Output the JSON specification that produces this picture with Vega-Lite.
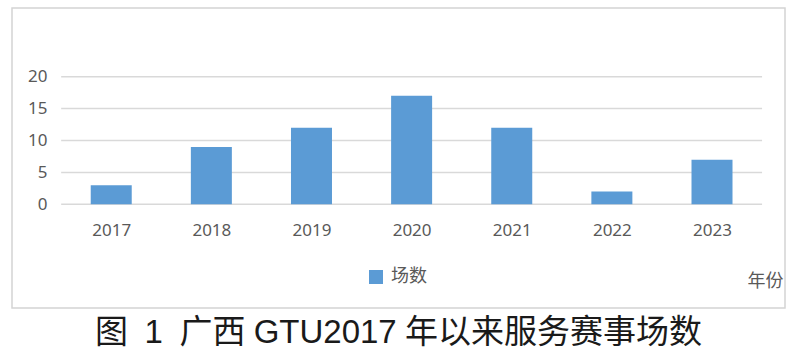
{
  "$schema": "https://vega.github.io/schema/vega-lite/v6.json",
  "autosize": "none",
  "width": 773,
  "height": 300,
  "padding": {"left": 12, "top": 8, "right": 11, "bottom": 53},
  "background": "#ffffff",
  "config": {
    "view": {"stroke": "#d4d4d4", "strokeWidth": 1.5},
    "font": "Noto Sans"
  },
  "title": {
    "text": "图\u20021\u2002广西\u2005GTU2017\u2005年以来服务赛事场数",
    "orient": "bottom",
    "anchor": "middle",
    "font": "Liberation Sans, Noto Sans CJK SC",
    "fontSize": 33,
    "fontWeight": "normal",
    "color": "#1a1a1a",
    "offset": 9
  },
  "datasets": {
    "counts": [
      {"year": 2017, "count": 3, "series": "场数"},
      {"year": 2018, "count": 9, "series": "场数"},
      {"year": 2019, "count": 12, "series": "场数"},
      {"year": 2020, "count": 17, "series": "场数"},
      {"year": 2021, "count": 12, "series": "场数"},
      {"year": 2022, "count": 2, "series": "场数"},
      {"year": 2023, "count": 7, "series": "场数"}
    ],
    "ticks": [{"v": 0}, {"v": 5}, {"v": 10}, {"v": 15}, {"v": 20}]
  },
  "layer": [
    {
      "data": {"name": "ticks"},
      "mark": {"type": "rule", "color": "#d9d9d9", "strokeWidth": 1.5},
      "encoding": {
        "x": {"datum": 2016.5, "type": "quantitative", "scale": {"domain": [2016.009, 2023.729], "nice": false, "zero": false, "padding": 0}},
        "x2": {"datum": 2023.5},
        "y": {"field": "v", "type": "quantitative", "scale": {"domain": [-16.25, 30.77], "nice": false, "zero": false, "padding": 0}}
      }
    },
    {
      "data": {"name": "counts"},
      "mark": {"type": "bar", "size": 41, "color": "#5b9bd5"},
      "encoding": {
        "x": {
          "field": "year",
          "type": "quantitative",
          "axis": {
            "values": [2017, 2018, 2019, 2020, 2021, 2022, 2023],
            "format": "d",
            "domain": false,
            "ticks": false,
            "grid": false,
            "offset": -86,
            "labelPadding": 0,
            "labelFont": "Noto Sans",
            "labelFontSize": 17,
            "labelColor": "#595959",
            "title": "年份",
            "titleFont": "Noto Sans CJK SC",
            "titleFontSize": 18,
            "titleFontWeight": "normal",
            "titleColor": "#595959",
            "titleAnchor": "end",
            "titleAlign": "right",
            "titleBaseline": "middle",
            "titleX": 771,
            "titleY": 59
          }
        },
        "y": {
          "field": "count",
          "type": "quantitative",
          "axis": {
            "values": [0, 5, 10, 15, 20],
            "domain": false,
            "ticks": false,
            "grid": false,
            "offset": -39,
            "labelPadding": 4,
            "labelFont": "Noto Sans",
            "labelFontSize": 17,
            "labelColor": "#595959",
            "title": null
          }
        },
        "color": {
          "field": "series",
          "type": "nominal",
          "scale": {"range": ["#5b9bd5"]},
          "legend": {
            "orient": "none",
            "legendX": 355,
            "legendY": 260,
            "title": null,
            "symbolType": "square",
            "symbolSize": 196,
            "symbolStrokeWidth": 0,
            "symbolOpacity": 1,
            "labelFont": "Noto Sans CJK SC",
            "labelFontSize": 18,
            "labelColor": "#595959",
            "labelOffset": 6,
            "padding": 0
          }
        }
      }
    }
  ]
}
